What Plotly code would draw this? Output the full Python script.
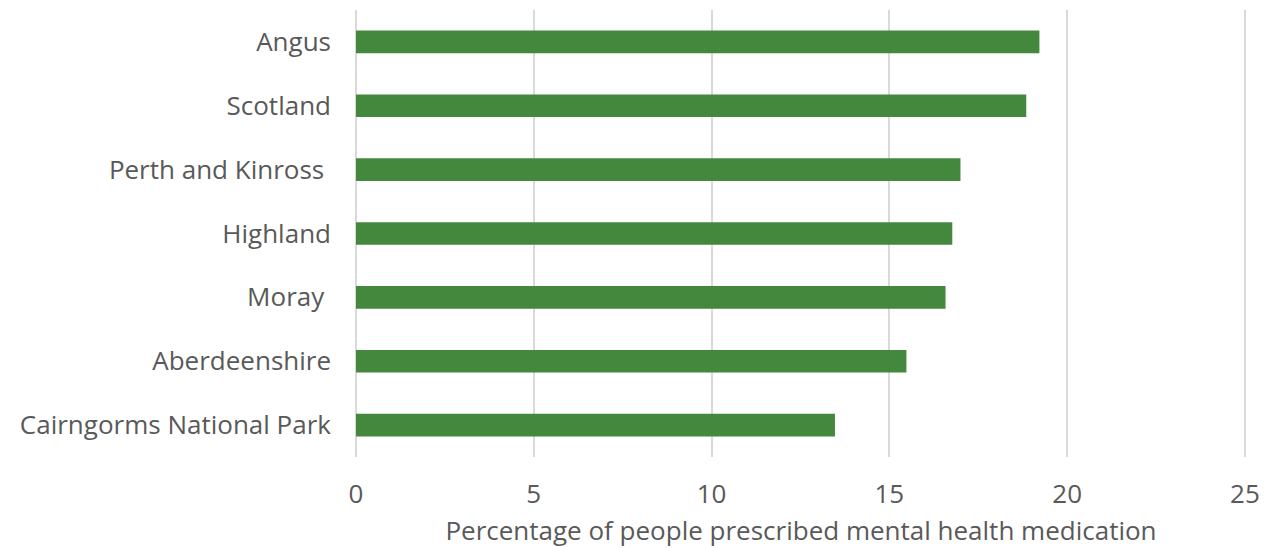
import plotly.graph_objects as go

# Areas listed bottom-to-top so the highest value sits at the top
areas = [
    "Cairngorms National Park",
    "Aberdeenshire",
    "Moray\u00a0",
    "Highland",
    "Perth and Kinross\u00a0",
    "Scotland",
    "Angus",
]
pct_prescribed = [13.47, 15.48, 16.58, 16.77, 17.0, 18.85, 19.22]

x_ticks = [0, 5, 10, 15, 20, 25]

font_family = "Open Sans"
font_size = 26
text_grey = "#595959"
bar_green = "#44883e"
grid_grey = "#d9d9d9"

fig = go.Figure(
    go.Bar(
        x=pct_prescribed,
        y=areas,
        orientation="h",
        marker=dict(color=bar_green, line=dict(width=0)),
        hoverinfo="x+y",
    )
)

fig.update_layout(
    width=1268,
    height=548,
    margin=dict(l=356, r=22, t=10, b=91, pad=0),
    paper_bgcolor="white",
    plot_bgcolor="white",
    bargap=0.645,
    showlegend=False,
    font=dict(family=font_family, size=font_size, color=text_grey),
)

fig.update_xaxes(
    range=[0, 25.03],
    automargin=False,
    tickvals=x_ticks,
    ticktext=[str(v) for v in x_ticks],
    showgrid=True,
    gridcolor=grid_grey,
    gridwidth=2,
    zeroline=True,
    zerolinecolor=grid_grey,
    zerolinewidth=2,
    showline=False,
    ticks="",
    ticklabelstandoff=19,
    tickfont=dict(family=font_family, size=font_size, color=text_grey),
    title=dict(
        text="Percentage of people prescribed mental health medication",
        font=dict(family=font_family, size=font_size, color=text_grey),
        standoff=22,
    ),
)

fig.update_yaxes(
    range=[-0.5, 6.5],
    automargin=False,
    showgrid=False,
    zeroline=False,
    showline=False,
    ticks="",
    ticklabelstandoff=24,
    tickfont=dict(family=font_family, size=font_size, color=text_grey),
)

fig.write_html("out.html")
